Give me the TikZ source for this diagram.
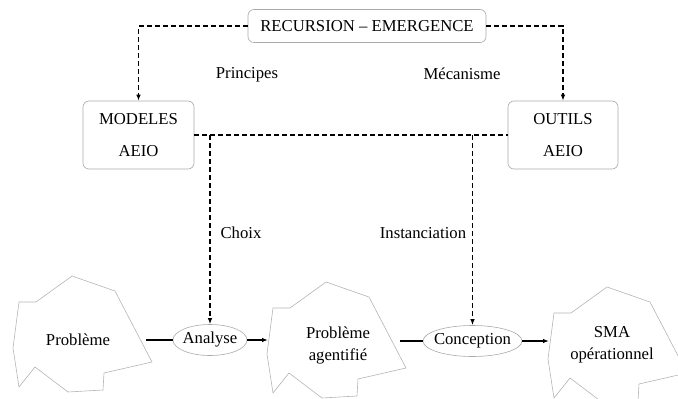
\documentclass[tikz,border=0pt]{standalone}
\usepackage{fontspec}
\setmainfont{Liberation Serif}
\usetikzlibrary{arrows.meta,positioning,shapes.geometric}
\definecolor{frame}{HTML}{AAAAAA}
\definecolor{blobline}{HTML}{B4B4B4}

\begin{document}
\begin{tikzpicture}[x=1pt,y=-1pt,every node/.style={font=\fontsize{16.7}{22}\selectfont,align=center},panel/.style={draw=frame,line width=0.6pt,rounded corners=6pt},task/.style={ellipse,draw=frame,line width=0.6pt,inner xsep=-15pt,inner ysep=-10pt,minimum height=31pt},link/.style={dash pattern=on 5pt off 3pt,line width=1.1pt},flow/.style={line width=1.3pt},tip/.style={-{Latex[length=6pt,width=4.5pt]}},blob/.pic={\draw[blobline,line width=0.6pt] (0,0) -- (43,15) -- (80,86) -- (32,97) -- (31,114) -- (-4,116) -- (-37,91) -- (-53,111) -- (-59,72) -- (-53,26) -- (-36,26) -- cycle; \coordinate (-e) at (74,0); \coordinate (-w) at (-58,0);}]
\useasboundingbox (0,0) rectangle (678,399);
\clip (0,0) rectangle (678,399);
% upper level
\node[panel,minimum width=238pt,minimum height=33pt] (rec) at (367,26) {RECURSION -- EMERGENCE};
\node[panel,minimum width=111pt,minimum height=68pt] (mod) at (138.5,135) {MODELES\\[10pt]AEIO};
\node[panel,minimum width=110pt,minimum height=68pt] (out) at (563,135) {OUTILS\\[10pt]AEIO};
\node (pri) at (247,75) {Principes};
\node (mec) at (462,74) {Mécanisme};
% lower level
\node[task,minimum width=74pt] (ana) at (210,340) {Analyse};
\node[task,minimum width=99pt] (con) at (472.5,341) {Conception};
\node (cho) at (241,233) {Choix};
\node (ins) at (423,233) {Instanciation};
\pic (p1) at (72,276) {blob}; \node (prb) at (78,340) {Problème};
\pic (p2) at (326,282) {blob}; \node (agt) at (338,345) {Problème\\agentifié};
\pic (p3) at (607,287) {blob}; \node (sma) at (612,345) {SMA\\opérationnel};
% connectors
\draw[link,tip] (rec.west) -| (mod.north);
\draw[link,tip] (rec.east) -| (out.north);
\draw[link] (mod.east) -- (out.west);
\draw[link,tip] (mod.east -| ana.north) -- (ana.north);
\draw[link,tip] (out.west -| con.north) -- (con.north);
\draw[flow] (p1-e |- ana) -- (ana);
\draw[flow,tip] (ana) -- (p2-w |- ana);
\draw[flow] (p2-e |- con) -- (con);
\draw[flow,tip] (con) -- (p3-w |- con);
\end{tikzpicture}
\end{document}
